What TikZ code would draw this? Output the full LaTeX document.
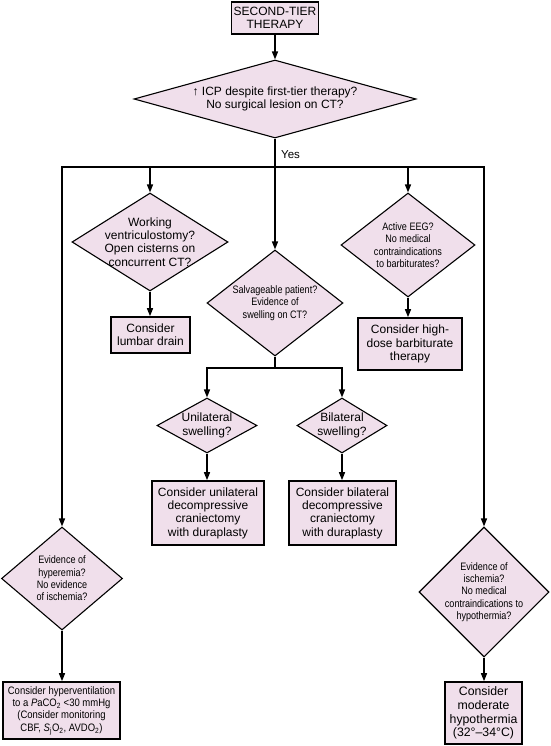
\documentclass[tikz,border=0pt]{standalone}
\usepackage{fontspec}
\setmainfont{Liberation Sans}
\newfontfamily\narrowfont[FakeStretch=0.84]{Liberation Sans}
\newfontfamily\narrowfontb[FakeStretch=0.88]{Liberation Sans}
\usetikzlibrary{shapes.geometric,arrows.meta}
\definecolor{fillc}{RGB}{240,223,235}
\newcommand{\regtext}{\fontsize{12}{13.3}\selectfont}
\newcommand{\nartext}{\narrowfont\fontsize{10.8}{12.3}\selectfont}
\tikzset{
  box/.style={draw, line width=1.6pt, fill=fillc, inner sep=0pt, align=center, font=\regtext},
  dia/.style={draw, line width=1.1pt, fill=fillc, diamond, inner sep=0pt},
  regtxt/.style={align=center, inner sep=0pt, font=\regtext},
  nartxt/.style={align=center, inner sep=0pt, font=\nartext},
  ln/.style={line width=1.3pt},
  arr/.style={line width=1.3pt, line join=miter, -{Triangle[length=8pt,width=6pt]}}
}
\begin{document}
\begin{tikzpicture}[x=1pt,y=-1pt]
\useasboundingbox (0,0) rectangle (550,746);

% boxes
\node[box, minimum width=87pt, minimum height=32pt] (top) at (275,18) {SECOND-TIER\\THERAPY};
\node[box, minimum width=79pt, minimum height=36pt] (lumbar) at (150.5,335) {Consider\\lumbar drain};
\node[box, minimum width=104pt, minimum height=52pt] (high) at (410,344) {Consider high-\\dose barbiturate\\therapy};
\node[box, minimum width=112pt, minimum height=64pt] (uni) at (208,513) {Consider unilateral\\decompressive\\craniectomy\\with duraplasty};
\node[box, minimum width=107pt, minimum height=64pt] (bil) at (342.5,513) {Consider bilateral\\decompressive\\craniectomy\\with duraplasty};
\node[box, minimum width=117pt, minimum height=57pt, font=\narrowfontb\fontsize{10.8}{12.4}\selectfont] (hyv) at (61.5,710.5) {Consider hyperventilation\\to a \textit{P}aCO\textsubscript{2} <30 mmHg\\(Consider monitoring\\CBF, \textit{S}\textsubscript{j}O\textsubscript{2}, AVDO\textsubscript{2})};
\node[box, minimum width=77pt, minimum height=62pt, font=\fontsize{12.3}{13.7}\selectfont] (hyt) at (483.5,713) {Consider\\moderate\\hypothermia\\(32°–34°C)};

% diamonds
\node[dia, minimum width=282pt, minimum height=78pt] (d0) at (275,99) {};
\node[regtxt] (t0) at (d0) {↑ ICP despite first-tier therapy?\\No surgical lesion on CT?};
\node[dia, minimum width=156pt, minimum height=98pt] (dv) at (150,242) {};
\node[regtxt] (tv) at (dv) {Working\\ventriculostomy?\\Open cisterns on\\concurrent CT?};
\node[dia, minimum width=136pt, minimum height=106pt] (ds) at (275,303) {};
\node[nartxt] (ts) at (ds) {Salvageable patient?\\Evidence of\\swelling on CT?};
\node[dia, minimum width=134pt, minimum height=104pt] (de) at (408,245) {};
\node[nartxt] (te) at (de) {Active EEG?\\No medical\\contraindications\\to barbiturates?};
\node[dia, minimum width=100pt, minimum height=55pt] (du) at (207,425.5) {};
\node[regtxt] (tu) at (du) {Unilateral\\swelling?};
\node[dia, minimum width=90pt, minimum height=55pt] (db) at (342,425.5) {};
\node[regtxt] (tb) at (db) {Bilateral\\swelling?};
\node[dia, minimum width=121pt, minimum height=103pt] (dh) at (62,578.5) {};
\node[nartxt] (th) at (dh) {Evidence of\\hyperemia?\\No evidence\\of ischemia?};
\node[dia, minimum width=130pt, minimum height=130pt] (di) at (484,592) {};
\node[nartxt] (ti) at (di) {Evidence of\\ischemia?\\No medical\\contraindications to\\hypothermia?};

% junctions
\coordinate (j) at (275,167);
\coordinate (s) at (275,368);
\node[regtxt, font=\fontsize{11.5}{13}\selectfont, anchor=west] (yes) at (281,155) {Yes};

% connectors
\draw[arr] (top) -- (d0.north);
\draw[ln] (d0.south) -- (j);
\draw[arr] (j) -| (dh.north);
\draw[arr] (j) -| (di.north);
\draw[arr] (dv.north |- j) -- (dv.north);
\draw[arr] (j) -- (ds.north);
\draw[arr] (de.north |- j) -- (de.north);
\draw[arr] (dv.south) -- (lumbar.north -| dv.south);
\draw[arr] (de.south) -- (high.north -| de.south);
\draw[ln] (ds.south) -- (s);
\draw[arr] (s) -| (du.north);
\draw[arr] (s) -| (db.north);
\draw[arr] (du.south) -- (uni.north -| du.south);
\draw[arr] (db.south) -- (bil.north -| db.south);
\draw[arr] (dh.south) -- (hyv.north -| dh.south);
\draw[arr] (di.south) -- (hyt.north -| di.south);
\end{tikzpicture}
\end{document}
